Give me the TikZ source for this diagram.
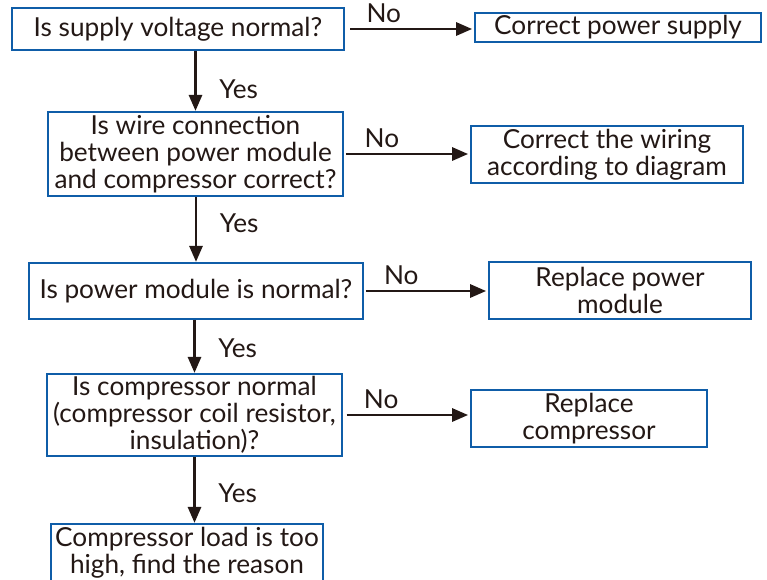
\documentclass[tikz,border=0pt]{standalone}
\usepackage{fontspec}
\setmainfont{Lato}
\usetikzlibrary{arrows.meta,positioning}
\definecolor{boxblue}{HTML}{0F5DA8}
\definecolor{ink}{HTML}{231815}

\begin{document}
\begin{tikzpicture}[x=0.02cm, y=-0.02cm,
  box/.style={rectangle, draw=boxblue, line width=1.4pt, fill=white, text=ink, align=center, inner sep=0pt, font=\fontsize{14.9}{15.3}\selectfont},
  arr/.style={-{Triangle[length=9pt, width=7.5pt]}, line width=1.2pt, ink},
  lbl/.style={text=ink, inner sep=0pt, font=\fontsize{14.9}{15.3}\selectfont}
]
  \useasboundingbox (0,0) rectangle (767,579);

  % Questions
  \node[box, minimum width=6.64cm, minimum height=0.84cm] (q1) at (178,29) {Is supply voltage normal?};
  \node[box, minimum width=5.90cm, minimum height=1.68cm] (q2) at (195.5,154) {Is wire connection\\between power module\\and compressor correct?};
  \node[box, minimum width=6.68cm, minimum height=1.12cm] (q3) at (196,291) {Is power module is normal?};
  \node[box, minimum width=5.90cm, minimum height=1.64cm] (q4) at (194.5,415) {Is compressor normal\\(compressor coil resistor,\\insulation)?};
  \node[box, minimum width=5.44cm, minimum height=1.16cm] (q5) at (187,553) {Compressor load is too\\high, find the reason};

  % Actions
  \node[box, minimum width=5.72cm, minimum height=0.58cm] (r1) at (618,27.5) {Correct power supply};
  \node[box, minimum width=5.44cm, minimum height=1.14cm] (r2) at (607,154.5) {Correct the wiring\\according to diagram};
  \node[box, minimum width=5.24cm, minimum height=1.14cm] (r3) at (620,290.5) {Replace power\\module};
  \node[box, minimum width=4.72cm, minimum height=1.14cm] (r4) at (589,418.5) {Replace\\compressor};

  % Yes branch
  \draw[arr] (q1.south -| q2.north) -- (q2.north) node[lbl, pos=.63, right=13pt] {Yes};
  \draw[arr] (q2.south -| q3.north) -- (q3.north) node[lbl, pos=.4, right=13pt] {Yes};
  \draw[arr] (q3.south -| q4.north) -- (q4.north) node[lbl, pos=.54, right=13pt] {Yes};
  \draw[arr] (q4.south) -- (q4.south |- q5.north) node[lbl, pos=.55, right=13pt] {Yes};

  % No branch
  \draw[arr, shorten <=3pt, shorten >=1pt] (q1.east) -- (q1.east -| r1.west) node[lbl, pos=.3, above=3pt] {No};
  \draw[arr, shorten <=1pt, shorten >=1pt] (q2.east) -- (q2.east -| r2.west) node[lbl, pos=.3, above=3pt] {No};
  \draw[arr, shorten <=1pt, shorten >=1pt] (q3.east) -- (q3.east -| r3.west) node[lbl, pos=.3, above=3pt] {No};
  \draw[arr, shorten <=2pt, shorten >=1pt] (q4.east) -- (q4.east -| r4.west) node[lbl, pos=.3, above=3pt] {No};
\end{tikzpicture}
\end{document}
